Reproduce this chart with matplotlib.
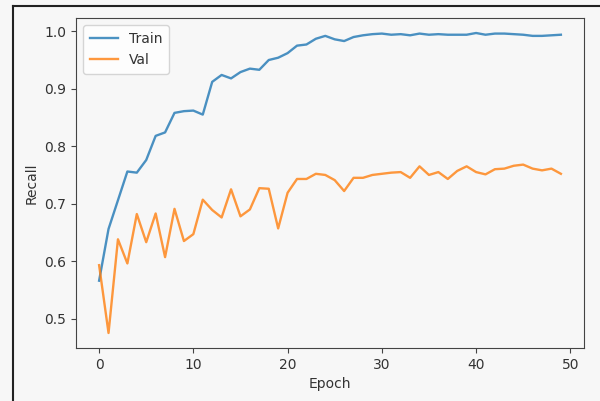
import matplotlib
matplotlib.use('Agg')
import matplotlib.pyplot as plt
from matplotlib.lines import Line2D

# recall per epoch
epochs = list(range(50))
train_recall = [0.566, 0.656, 0.706, 0.756, 0.754, 0.776, 0.818, 0.824, 0.858, 0.861,
                0.862, 0.855, 0.912, 0.924, 0.918, 0.929, 0.935, 0.933, 0.950, 0.954,
                0.962, 0.975, 0.977, 0.987, 0.992, 0.986, 0.983, 0.990, 0.993, 0.995,
                0.996, 0.994, 0.995, 0.993, 0.996, 0.994, 0.995, 0.994, 0.994, 0.994,
                0.997, 0.994, 0.996, 0.996, 0.995, 0.994, 0.992, 0.992, 0.993, 0.994]
val_recall = [0.593, 0.475, 0.638, 0.596, 0.682, 0.633, 0.683, 0.607, 0.691, 0.635,
              0.647, 0.707, 0.689, 0.676, 0.725, 0.678, 0.690, 0.727, 0.726, 0.657,
              0.719, 0.743, 0.743, 0.752, 0.750, 0.741, 0.722, 0.745, 0.745, 0.750,
              0.752, 0.754, 0.755, 0.745, 0.765, 0.750, 0.755, 0.743, 0.757, 0.765,
              0.755, 0.751, 0.760, 0.761, 0.766, 0.768, 0.761, 0.758, 0.761, 0.752]

bg = '#f7f7f7'
fig = plt.figure(figsize=(6.0, 4.01), dpi=100, facecolor=bg)
ax = fig.add_axes([0.1267, 0.1322, 0.8466, 0.8229])
ax.set_facecolor(bg)

# screenshot is a bit blurry, so soften the lines a little
ax.plot(epochs, train_recall, label='Train', lw=1.7, alpha=0.8)
ax.plot(epochs, val_recall, label='Val', lw=1.7, alpha=0.8)
ax.set_xlabel('Epoch', color='#333333')
ax.set_ylabel('Recall', color='#333333')
ax.tick_params(labelcolor='#333333', color='#444444')
leg = ax.legend(loc='upper left', borderpad=0.5)
for t in leg.get_texts():
    t.set_color('#333333')

for s in ax.spines.values():
    s.set_color('#444444')

# screenshot border (top and left)
fig.add_artist(Line2D([0.022, 1.0], [0.985, 0.985], transform=fig.transFigure,
                      color='#222222', lw=1.5))
fig.add_artist(Line2D([0.022, 0.022], [0.0, 0.985], transform=fig.transFigure,
                      color='#222222', lw=1.5))

fig.savefig('out.png', dpi=100, facecolor=bg)
